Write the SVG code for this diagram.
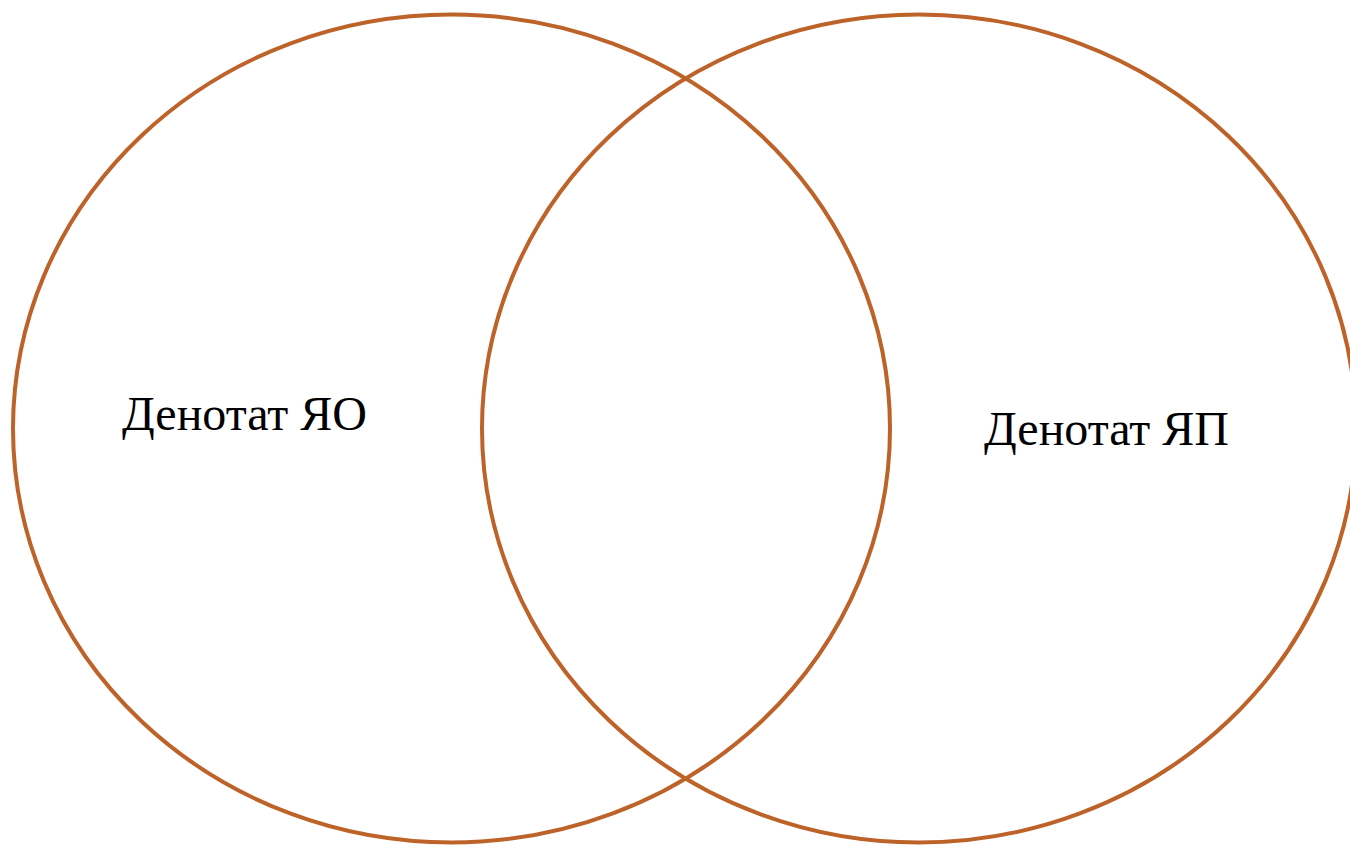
<svg xmlns="http://www.w3.org/2000/svg" width="1350" height="845" viewBox="0 0 1350 845">
<style>
.c{fill:none;stroke:#BD6229;stroke-width:4}
.t{font-family:"Liberation Serif","Times New Roman",serif;font-size:48px;fill:#000}
</style>
<rect width="1350" height="845" fill="#fff"/>
<g id="left">
<ellipse class="c" cx="451.5" cy="428.5" rx="438.5" ry="414"/>
<text class="t" x="122" y="430">Денотат ЯО</text>
</g>
<g id="right">
<ellipse class="c" cx="919" cy="428.5" rx="437" ry="414"/>
<text class="t" x="984" y="445">Денотат ЯП</text>
</g>
<g id="connectors"></g>
</svg>
